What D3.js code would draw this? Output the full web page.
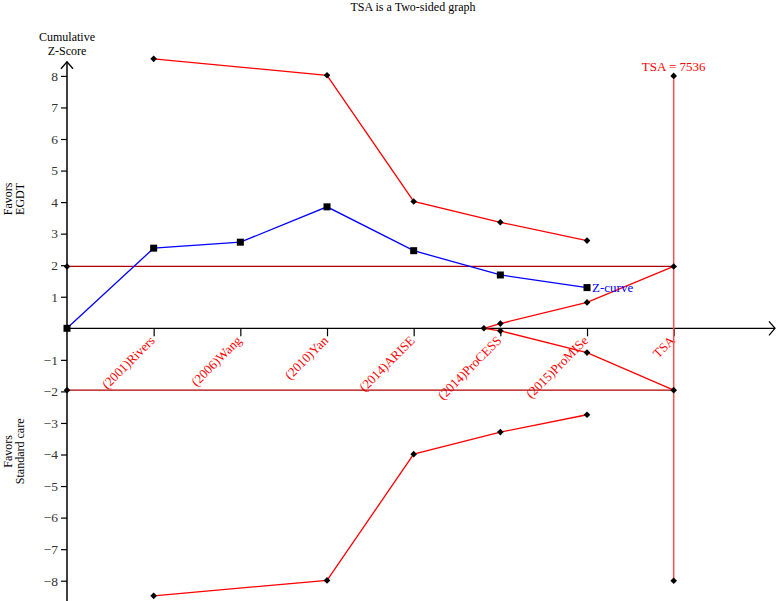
<!DOCTYPE html>
<html>
<head>
<meta charset="utf-8">
<script src="https://cdn.jsdelivr.net/npm/d3@7"></script>
<style>
  body { margin: 0; background: #fff; }
  text { font-family: "Liberation Serif", "Times New Roman", serif; }
</style>
</head>
<body>
<div id="chart"></div>
<script>
// studies, in cumulative order (x position = index)
const studies = ['(2001)Rivers', '(2006)Wang', '(2010)Yan', '(2014)ARISE', '(2014)ProCESS', '(2015)ProMISe', 'TSA'];
const studyPos = [1, 2, 3, 4, 5, 6, 7];

// cumulative Z-curve (starts at origin)
const zPos = [0, 1, 2, 3, 4, 5, 6];
const zValues = [0, 2.54, 2.73, 3.85, 2.46, 1.69, 1.29];

// monitoring boundaries
const boundPos = [1, 3, 4, 5, 6];
const upperBound = [8.54, 8.02, 4.02, 3.36, 2.78];
const lowerBound = [-8.48, -7.99, -3.99, -3.29, -2.74];

// futility (inner wedge) boundaries
const futPos = [4.81, 5, 6, 7];
const futUpper = [0, 0.15, 0.82, 1.96];
const futLower = [0, -0.08, -0.77, -1.96];

// conventional boundaries and TSA line
const conventional = [1.96, -1.96];
const tsaPos = 7;
const tsaRange = [8, -8];
const tsaLabel = 'TSA = 7536';
const yTicks = [-8, -7, -6, -5, -4, -3, -2, -1, 1, 2, 3, 4, 5, 6, 7, 8];

const W = 778, H = 601;
const svg = d3.select('#chart').append('svg')
  .attr('width', W).attr('height', H);

const x = d3.scaleLinear().domain([0, 1]).range([67, 153.67]);
const y = d3.scaleLinear().domain([0, 8]).range([328.3, 75.9]);

// title
svg.append('text')
  .attr('x', 413).attr('y', 11)
  .attr('text-anchor', 'middle')
  .style('font-size', '12px')
  .text('TSA is a Two-sided graph');

// y axis label
svg.append('text').attr('x', 67).attr('y', 41).attr('text-anchor', 'middle')
  .style('font-size', '12px').text('Cumulative');
svg.append('text').attr('x', 67).attr('y', 55).attr('text-anchor', 'middle')
  .style('font-size', '12px').text('Z-Score');

function sideLabel(lines, cy) {
  lines.forEach((t, i) => {
    svg.append('text')
      .attr('transform', `translate(${12 + i * 12},${cy}) rotate(-90)`)
      .attr('text-anchor', 'middle')
      .style('font-size', '12px')
      .text(t);
  });
}
sideLabel(['Favors', 'EGDT'], y(4.1));
sideLabel(['Favors', 'Standard care'], y(-3.9));

// y axis
const yAxis = svg.append('g')
  .attr('transform', `translate(${x(0)},0)`)
  .call(d3.axisLeft(y).tickValues(yTicks).tickSize(6).tickPadding(3)
    .tickFormat(d => d < 0 ? '\u2212' + Math.abs(d) : d));
yAxis.select('.domain').remove();
yAxis.selectAll('line').attr('stroke', '#000').attr('stroke-width', 1.2);
yAxis.selectAll('text')
  .style('font-family', '"Liberation Serif", serif')
  .style('font-size', '13.5px').attr('fill', '#333');

const yTop = y(8.45);
svg.append('line')
  .attr('x1', x(0)).attr('x2', x(0))
  .attr('y1', yTop).attr('y2', H)
  .attr('stroke', '#000').attr('stroke-width', 1.5);
svg.append('path')
  .attr('d', `M${x(0) - 6},${yTop + 7}L${x(0)},${yTop}L${x(0) + 6},${yTop + 7}`)
  .attr('fill', 'none').attr('stroke', '#000').attr('stroke-width', 1.3);

// x axis
const xAxis = svg.append('g')
  .attr('transform', `translate(0,${y(0)})`)
  .call(d3.axisBottom(x).tickValues(studyPos).tickSize(8).tickFormat(''));
xAxis.select('.domain').remove();
xAxis.selectAll('line').attr('stroke', '#000').attr('stroke-width', 1.2);

svg.append('line')
  .attr('x1', x(0)).attr('x2', 775)
  .attr('y1', y(0)).attr('y2', y(0))
  .attr('stroke', '#000').attr('stroke-width', 1.3);
svg.append('path')
  .attr('d', `M769,${y(0) - 7}L775,${y(0)}L769,${y(0) + 7}`)
  .attr('fill', 'none').attr('stroke', '#000').attr('stroke-width', 1.3);

svg.selectAll('.xlab')
  .data(studies)
  .enter().append('text')
  .attr('transform', (d, i) => `translate(${x(studyPos[i]) + 2},${y(0) + 13}) rotate(-45)`)
  .attr('text-anchor', 'end')
  .attr('fill', '#ff0000')
  .style('font-size', '13px')
  .text(d => d);

// conventional boundaries
svg.selectAll('.conv')
  .data(conventional)
  .enter().append('line')
  .attr('x1', x(0)).attr('x2', x(tsaPos))
  .attr('y1', d => y(d)).attr('y2', d => y(d))
  .attr('stroke', '#b00000').attr('stroke-width', 1.3);

// TSA vertical line
svg.append('line')
  .attr('x1', x(tsaPos)).attr('x2', x(tsaPos))
  .attr('y1', y(tsaRange[0])).attr('y2', y(tsaRange[1]))
  .attr('stroke', '#ff5050').attr('stroke-width', 1.5);

const line = d3.line().x(d => x(d[0])).y(d => y(d[1]));
const redLines = [
  d3.zip(boundPos, upperBound),
  d3.zip(boundPos, lowerBound),
  d3.zip(futPos, futUpper),
  d3.zip(futPos, futLower)
];
svg.selectAll('.bound')
  .data(redLines)
  .enter().append('path')
  .attr('d', line)
  .attr('fill', 'none')
  .attr('stroke', '#ff0000')
  .attr('stroke-width', 1.3);

// Z-curve
const zData = d3.zip(zPos, zValues);
svg.append('path')
  .datum(zData)
  .attr('d', line)
  .attr('fill', 'none')
  .attr('stroke', '#0000ff')
  .attr('stroke-width', 1.3);

// diamond markers (square turned 45 degrees)
const diamond = d3.symbol().type(d3.symbolSquare).size(22);
const diamondPts = [].concat(
  redLines[0], redLines[1], redLines[2], redLines[3].slice(1),
  conventional.map(v => [0, v]),
  tsaRange.map(v => [tsaPos, v])
);
svg.selectAll('.dia')
  .data(diamondPts)
  .enter().append('path')
  .attr('d', diamond)
  .attr('transform', d => `translate(${x(d[0])},${y(d[1])}) rotate(45)`)
  .attr('fill', '#000');

// square markers
svg.selectAll('.sq')
  .data(zData)
  .enter().append('rect')
  .attr('x', d => x(d[0]) - 3.5)
  .attr('y', d => y(d[1]) - 3.5)
  .attr('width', 7).attr('height', 7)
  .attr('fill', '#000');

// labels
const last = zData[zData.length - 1];
svg.append('text')
  .attr('x', x(last[0]) + 5).attr('y', y(last[1]) + 4)
  .attr('fill', '#0000ff')
  .style('font-size', '13px')
  .text('Z-curve');

svg.append('text')
  .attr('x', x(tsaPos)).attr('y', y(tsaRange[0]) - 5)
  .attr('text-anchor', 'middle')
  .attr('fill', '#ff0000')
  .style('font-size', '13px')
  .text(tsaLabel);
</script>
</body>
</html>
